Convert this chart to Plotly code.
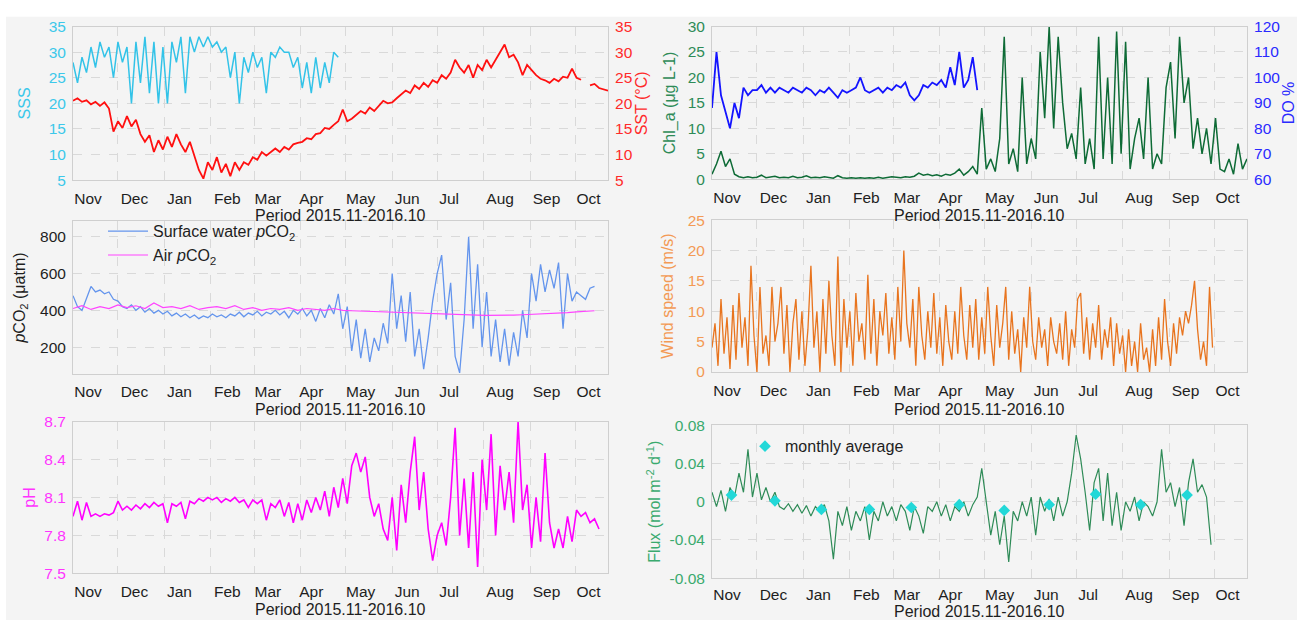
import plotly.graph_objects as go

W, H = 1297, 628

# ---------------- data ----------------
month_names = ["Nov", "Dec", "Jan", "Feb", "Mar", "Apr", "May", "Jun", "Jul", "Aug", "Sep", "Oct"]
month_label_days = [10, 41, 71, 103, 130, 159, 192, 223, 251, 285, 316, 344]
month_start_days = [30, 61, 92, 121, 152, 182, 213, 243, 274, 305, 335]
x_title = "Period 2015.11-2016.10"

# days since 2015-11-01, 3-day step
sss = [28, 24, 29, 26, 31, 27, 32, 29, 31, 25, 32, 28, 31, 20, 32, 24, 33, 22, 32, 20,
       31, 20, 32, 28, 33, 22, 33, 30, 33, 31, 33, 31, 32, 30, 31, 25, 30, 20, 29, 26,
       30, 27, 29, 22, 30, 29, 31, 30, 30, 27, 29, 23, 28, 22, 29, 23, 28, 24, 30, 29]

sst = [20.5, 21, 20.3, 20.6, 19.8, 20.3, 19.5, 20.2, 19.0, 14.5, 16.5, 15.2, 17.5, 15.5, 16.8, 14.0,
       12.5, 13.8, 10.5, 12.8, 11.0, 13.5, 11.5, 14.0, 12.0, 10.5, 12.5, 9.5, 7.0, 5.3, 8.5, 7.0,
       9.5, 6.5, 8.2, 5.8, 8.5, 7.0, 8.5, 8.0, 9.5, 9.0, 10.5, 9.8, 10.5, 11.2, 10.5, 11.5,
       11.0, 12.0, 12.3, 12.5, 13.2, 13.0, 14.0, 14.2, 15.2, 15.0, 15.8, 16.5, 18.8, 16.5, 17.0, 17.8,
       18.5, 18.0, 19.2, 18.5, 19.5, 20.5, 20.0, 20.2, 21.0, 21.8, 22.5, 22.0, 23.5, 22.8, 24.0, 23.2,
       24.5, 24.0, 25.5, 24.8, 26.0, 28.5, 27.0, 26.0, 27.5, 25.0, 27.5, 26.5, 28.5, 27.0, 28.5, 30.0,
       31.5, 29.0, 29.5, 28.0, 25.5, 27.5, 26.5, 25.5, 24.8, 24.5, 24.0, 24.8, 24.3, 25.2, 25.0, 26.8,
       25.0, 24.6, None, 23.5, 23.8, 23.0, 22.8, 22.5]

do_pct = [88, 110, 93, 86, 80, 90, 84, 96, 93, 95, 95, 97, 94, 96, 94, 96, 95, 94, 96, 95,
          94, 96, 95, 93, 95, 94, 96, 94, 92, 95, 94, 95, 96, 100, 95, 94, 95, 96, 94, 96,
          95, 97, 96, 98, 93, 91, 93, 97, 96, 98, 97, 99, 96, 104, 97, 110, 96, 99, 108, 95]

chl_a = [1, 3, 5.5, 2.5, 4, 1, 0.5, 0.3, 0.5, 0.3, 0.4, 0.8, 0.3, 0.5, 0.6, 0.3, 0.4, 0.3, 0.6, 0.3,
         0.4, 0.7, 0.3, 0.4, 0.3, 0.5, 0.3, 0.2, 0.7, 0.3, 0.2, 0.3, 0.2, 0.3, 0.2, 0.3, 0.2, 0.4, 0.2, 0.3,
         0.5, 0.4, 0.3, 0.5, 0.4, 0.6, 1.2, 0.8, 1.0, 0.7, 0.9, 0.6, 1.0, 0.8, 1.2, 2.0, 0.8, 1.5, 2.5, 1.0,
         14, 2.0, 4, 1.5, 8, 28, 3, 6, 1.5, 20, 3, 8, 4, 25, 12, 30, 10, 28, 15, 6,
         9, 4, 18, 3, 8, 2, 28, 4, 20, 3, 29, 5, 27, 2, 8, 12, 4, 20, 2, 5,
         3, 18, 23, 8, 28, 15, 20, 6, 12, 5, 10, 3, 12, 2, 1.5, 4, 1, 7, 2, 4]

pco2_water = [480, 420, 400, 460, 530, 500, 510, 490, 500, 460, 450, 420, 410, 430, 400, 420, 390, 410, 385, 400,
              380, 395, 370, 385, 365, 380, 360, 375, 355, 370, 360, 380, 365, 375, 360, 380, 370, 390, 365, 385,
              375, 395, 370, 390, 380, 400, 375, 395, 360, 400, 380, 410, 370, 400, 340, 410, 360, 430, 380, 490,
              300, 420, 180, 350, 140, 300, 120, 250, 180, 330, 220, 600, 300, 480, 230, 500, 150, 300, 80, 250,
              450, 600, 700, 350, 550, 150, 60, 350, 800, 300, 650, 200, 500, 150, 350, 120, 300, 100, 280, 150,
              400, 250, 600, 450, 650, 500, 620, 520, 660, 300, 600, 450, 500, 480, 460, 520, 530]

# 6-day step
pco2_air = [410, 425, 405, 420, 410, 430, 415, 425, 410, 440, 415, 420, 410, 425, 405, 415, 420, 410, 425, 405,
            415, 400, 410, 405, 415, 400, 410, 405, 400, 410, 400, 398, 396, 395, 393, 392, 390, 388, 386, 385,
            383, 380, 378, 376, 375, 374, 373, 372, 372, 374, 376, 378, 380, 382, 385, 388, 392, 395, 398]

# 2-day step
wind = [4, 8, 1, 12, 3, 9, 0.5, 11, 2, 13, 4, 9, 1, 17.5, 6, 0, 14, 3, 6, 1,
        14, 5, 8, 14, 3, 11, 0, 8, 12, 2, 10, 1, 7, 17.5, 4, 10, 0, 12, 3, 15,
        6, 1, 19, 0, 12, 4, 10, 1, 13, 5, 8, 2, 16, 3, 12, 1, 10, 6, 13, 3,
        9, 2, 14, 5, 20, 8, 4, 12, 1, 14, 6, 2, 10, 4, 13, 3, 9, 1, 11, 5,
        2, 10, 3, 14, 6, 2, 11, 4, 12, 2, 9, 3, 14, 6, 1, 11, 4, 8, 14, 2,
        10, 3, 7, 0, 9, 4, 14, 5, 2, 9, 4, 7, 1, 9, 5, 3, 8, 2, 10, 1,
        7, 4, 12, 13, 3, 9, 2, 8, 4, 11, 2, 7, 4, 9, 1, 8, 3, 6, 0, 7,
        1, 5, 0, 8, 2, 4, 0, 7, 1, 9, 2, 12, 5, 1, 8, 3, 9, 6, 10, 8,
        11, 15, 7, 2, 5, 1, 14, 4]

ph = [7.95, 8.07, 7.92, 8.06, 7.95, 7.97, 7.95, 7.97, 7.96, 7.98, 8.07, 8.0, 8.03, 8.0, 8.04, 8.01, 8.05, 8.02,
      8.06, 8.03, 8.05, 7.9, 8.05, 8.03, 8.06, 7.93, 8.07, 8.05, 8.09, 8.07, 8.1, 8.08, 8.1, 8.06, 8.09, 8.07,
      8.1, 8.06, 8.08, 8.02, 8.08, 8.05, 8.08, 7.92, 8.05, 8.02, 8.08, 7.95, 8.06, 7.9, 8.05, 7.92, 8.08, 7.98,
      8.1, 8.0, 8.15, 7.95, 8.18, 8.02, 8.25, 8.05, 8.35, 8.45, 8.3, 8.42, 8.1, 7.95, 8.05, 7.85, 7.76, 8.1,
      7.68, 8.2, 7.9, 8.3, 8.58, 8.0, 8.3, 7.85, 7.6, 7.8, 7.9, 7.72, 8.1, 8.65, 7.8, 8.25, 7.7, 8.3,
      7.55, 8.4, 8.0, 8.6, 7.8, 8.35, 8.0, 8.3, 7.9, 8.7, 8.0, 8.2, 7.7, 8.1, 7.75, 8.45, 7.9, 7.7,
      7.85, 7.7, 7.95, 7.75, 8.0, 7.95, 7.98, 7.9, 7.93, 7.85]

flux = [0.01, -0.005, 0.012, -0.01, 0.015, 0.005, 0.03, 0.01, 0.055, 0.005, 0.03, 0.002, 0.015, 0.0,
        0.01, -0.005, -0.008, -0.002, -0.01, -0.003, -0.012, -0.004, -0.015, -0.005, -0.01, -0.003, -0.02,
        -0.06, -0.01, -0.025, -0.005, -0.03, -0.01, -0.02, -0.005, -0.04, -0.01, -0.02, 0.0, -0.015,
        -0.005, -0.02, -0.003, -0.01, -0.03, -0.005, -0.015, -0.033, -0.005, -0.01, 0.0, -0.015, -0.003,
        -0.02, -0.005, -0.01, 0.0, -0.015, -0.003, 0.005, 0.035, 0.0, -0.035, -0.01, -0.045, -0.015,
        -0.063, -0.01, -0.02, 0.0, -0.015, 0.005, -0.035, 0.005, -0.01, 0.003, -0.02, 0.005, -0.015,
        0.0, 0.03, 0.07, 0.045, 0.01, -0.03, 0.02, 0.035, -0.02, 0.03, -0.025, 0.01, -0.03, 0.0,
        -0.01, 0.005, -0.02, 0.0, -0.005, -0.015, 0.0, 0.055, 0.01, 0.02, -0.005, 0.015, -0.025, 0.02,
        0.045, 0.01, 0.018, 0.005, -0.045]

flux_month_days = [13, 42, 73, 105, 133, 165, 195, 225, 256, 286, 317]
flux_month_avg = [0.007, 0.001, -0.008, -0.008, -0.006, -0.003, -0.009, -0.003, 0.008, -0.003, 0.007]


def days(vals, step):
    return [i * step for i in range(len(vals))]


# ---------------- layout helpers ----------------
FONT = "Liberation Sans, Arial, sans-serif"
TICK = 15.5
TITLE = 16


def ydom(top_px, bottom_px):
    return [1 - bottom_px / H, 1 - top_px / H]


colL = [73 / W, 608 / W]
colR = [712 / W, 1247 / W]
dom_TL, dom_TR = ydom(18, 176), ydom(18, 175)
dom_ML, dom_MR = ydom(218, 375), ydom(217, 373)
dom_BL, dom_BR = ydom(424, 580), ydom(428, 585)

GRID = "#d9d9d9"
FRAME = "#cfcfcf"

fig = go.Figure()


def xaxis(dom, anchor, ticklen=4):
    return dict(domain=dom, anchor=anchor, range=[0, 357],
                tickmode="array", tickvals=month_label_days, ticktext=month_names,
                showgrid=False, zeroline=False,
                ticks="outside", ticklen=ticklen, tickcolor="rgba(0,0,0,0)",
                tickfont=dict(size=TICK, color="#1e1e1e", family=FONT),
                showline=True, linecolor=FRAME, mirror=True, linewidth=1,
                minor=dict(tickmode="array", tickvals=month_start_days, showgrid=True,
                           gridcolor=GRID, griddash="dash", gridwidth=1, ticks=""))


def yaxis(dom, anchor, rng, dtick, color, title, standoff, side="left", overlay=None,
          tickvals=None, ticktext=None):
    d = dict(domain=dom, anchor=anchor, range=rng, side=side,
             showgrid=True, gridcolor=GRID, griddash="dash", zeroline=False,
             ticks="outside", ticklen=3, tickcolor="rgba(0,0,0,0)",
             tickfont=dict(size=TICK, color=color, family=FONT),
             title=dict(text=title, font=dict(size=TITLE, color=color, family=FONT), standoff=standoff),
             showline=True, linecolor=FRAME, mirror=True, linewidth=1)
    if tickvals is not None:
        d.update(tickmode="array", tickvals=tickvals, ticktext=ticktext)
    else:
        d.update(dtick=dtick, tick0=rng[0])
    if overlay:
        d.update(overlaying=overlay, showgrid=False)
    return d


# ---------------- traces ----------------
fig.add_trace(go.Scatter(x=days(sss, 3), y=sss, mode="lines", line=dict(color="#33c3e8", width=1.5),
                         xaxis="x", yaxis="y", showlegend=False))
fig.add_trace(go.Scatter(x=days(sst, 3), y=sst, mode="lines", line=dict(color="#ff1010", width=1.8),
                         xaxis="x", yaxis="y2", showlegend=False))
fig.add_trace(go.Scatter(x=days(chl_a, 3), y=chl_a, mode="lines", line=dict(color="#0e6b36", width=1.5),
                         xaxis="x2", yaxis="y3", showlegend=False))
fig.add_trace(go.Scatter(x=days(do_pct, 3), y=do_pct, mode="lines", line=dict(color="#1414ff", width=1.8),
                         xaxis="x2", yaxis="y4", showlegend=False))
fig.add_trace(go.Scatter(x=days(pco2_water, 3), y=pco2_water, mode="lines",
                         line=dict(color="#6495ed", width=1.3),
                         name="Surface water <i>p</i>CO<sub>2</sub>", legend="legend",
                         xaxis="x3", yaxis="y5"))
fig.add_trace(go.Scatter(x=days(pco2_air, 6), y=pco2_air, mode="lines",
                         line=dict(color="#ff44ff", width=1.2),
                         name="Air <i>p</i>CO<sub>2</sub>", legend="legend",
                         xaxis="x3", yaxis="y5"))
fig.add_trace(go.Scatter(x=days(wind, 2), y=wind, mode="lines", line=dict(color="#e8741e", width=1.3),
                         xaxis="x4", yaxis="y6", showlegend=False))
fig.add_trace(go.Scatter(x=days(ph, 3), y=ph, mode="lines", line=dict(color="#ff00ff", width=1.6),
                         xaxis="x5", yaxis="y7", showlegend=False))
fig.add_trace(go.Scatter(x=days(flux, 3), y=flux, mode="lines", line=dict(color="#2e8b57", width=1.2),
                         xaxis="x6", yaxis="y8", showlegend=False))
fig.add_trace(go.Scatter(x=flux_month_days, y=flux_month_avg, mode="markers",
                         marker=dict(symbol="diamond", size=9, color="#22d8d8"),
                         name="monthly average", legend="legend2",
                         xaxis="x6", yaxis="y8"))

# ---------------- layout ----------------
annotations = []
for cx, ty in [((colL[0] + colL[1]) / 2, 212), ((colR[0] + colR[1]) / 2, 212),
               ((colL[0] + colL[1]) / 2, 412), ((colR[0] + colR[1]) / 2, 412),
               ((colL[0] + colL[1]) / 2, 617), ((colR[0] + colR[1]) / 2, 619)]:
    annotations.append(dict(text=x_title, xref="paper", yref="paper", x=cx, y=1 - ty / H,
                            xanchor="center", yanchor="middle", showarrow=False,
                            font=dict(size=TITLE, color="#1e1e1e", family=FONT)))
annotations.append(dict(text="DO %", xref="paper", yref="paper", x=1288 / W, y=1 - 97 / H,
                        xanchor="center", yanchor="middle", textangle=-90, showarrow=False,
                        font=dict(size=TITLE, color="#2a2aff", family=FONT)))

fig.update_layout(
    width=W, height=H, autosize=False,
    margin=dict(l=0, r=0, t=0, b=0),
    paper_bgcolor="#ffffff", plot_bgcolor="#f6f6f6",
    font=dict(family=FONT, size=TICK, color="#1e1e1e"),
    shapes=[dict(type="rect", xref="paper", yref="paper", x0=6 / W, x1=1, y0=0, y1=1 - 8 / H,
                 fillcolor="#f4f4f4", line=dict(width=0), layer="below")],
    annotations=annotations,
    xaxis=xaxis(colL, "y"),
    yaxis=yaxis(dom_TL, "x", [5, 35], 5, "#3cc8ea", "SSS", 14),
    yaxis2=yaxis(dom_TL, "x", [5, 35], 5, "#ff2a2a", "SST (°C)", 4, side="right", overlay="y"),
    xaxis2=xaxis(colR, "y3"),
    yaxis3=yaxis(dom_TR, "x2", [0, 30], 5, "#2e8b57", "Chl_a (μg L-1)", 8),
    yaxis4=yaxis(dom_TR, "x2", [60, 120], 10, "#2a2aff", "", 0, side="right", overlay="y3"),
    xaxis3=xaxis(colL, "y5"),
    yaxis5=yaxis(dom_ML, "x3", [55, 885], None, "#1e1e1e", "<i>p</i>CO<sub>2</sub> (μatm)", 10,
                 tickvals=[200, 400, 600, 800], ticktext=["200", "400", "600", "800"]),
    xaxis4=xaxis(colR, "y6"),
    yaxis6=yaxis(dom_MR, "x4", [0, 25], 5, "#f39a55", "Wind speed (m/s)", 10),
    xaxis5=xaxis(colL, "y7"),
    yaxis7=yaxis(dom_BL, "x5", [7.5, 8.7], 0.3, "#ff33ff", "pH", 4,
                 tickvals=[7.5, 7.8, 8.1, 8.4, 8.7], ticktext=["7.5", "7.8", "8.1", "8.4", "8.7"]),
    xaxis6=xaxis(colR, "y8", ticklen=2),
    yaxis8=yaxis(dom_BR, "x6", [-0.08, 0.08], None, "#3aaa6e", "Flux (mol m<sup>-2</sup> d<sup>-1</sup>)", 4,
                 tickvals=[-0.08, -0.04, 0, 0.04, 0.08], ticktext=["-0.08", "-0.04", "0", "0.04", "0.08"]),
    legend=dict(x=103 / W, y=1 - 211 / H, xanchor="left", yanchor="top",
                bgcolor="rgba(0,0,0,0)", font=dict(size=TITLE, color="#1e1e1e", family=FONT),
                tracegroupgap=0, itemwidth=40),
    legend2=dict(x=745 / W, y=1 - 432 / H, xanchor="left", yanchor="top",
                 bgcolor="rgba(0,0,0,0)", font=dict(size=TITLE, color="#1e1e1e", family=FONT)),
)

fig.write_html(
    "out.html",
    config={"displayModeBar": False},
    post_script=("document.documentElement.style.margin='0px';"
                 "document.body.style.margin='0px';"
                 "document.documentElement.style.overflow='hidden';"
                 "document.body.style.overflow='hidden';"
                 "var gd=document.getElementById('{plot_id}');"
                 "gd.style.position='fixed';gd.style.top='0px';gd.style.left='0px';"),
)
